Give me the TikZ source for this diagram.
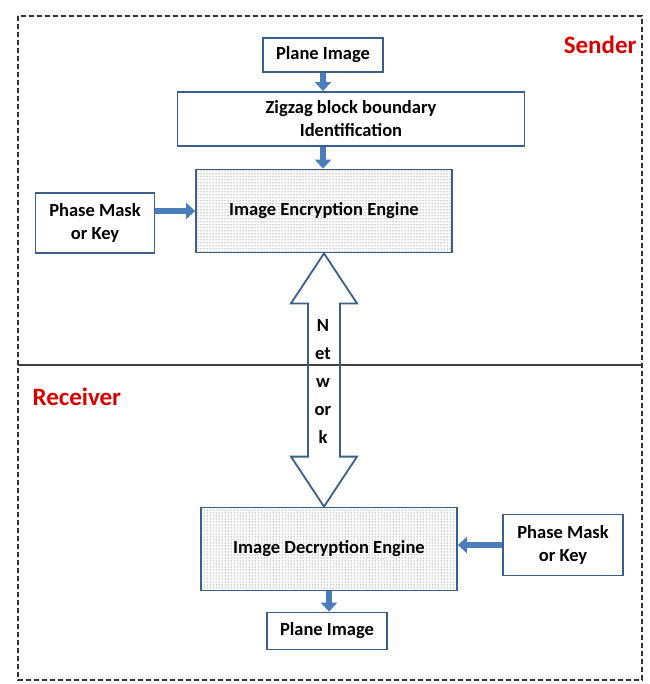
\documentclass[tikz,border=0pt]{standalone}
\usepackage{fontspec}
\setmainfont{Carlito}
\usetikzlibrary{calc,patterns,arrows.meta}
\definecolor{boxline}{HTML}{3A5F8B}
\definecolor{arrowblue}{HTML}{4A7DBA}
\begin{document}
\begin{tikzpicture}[x=1pt,y=-1pt,
	blk/.style={draw=boxline,line width=1.8pt,fill=white,align=center,inner sep=2pt,
		font=\fontsize{18.5}{23}\selectfont\bfseries},
	engine/.style={blk,pattern=dots,pattern color=black!75},
	flow/.style={arrowblue,line width=6pt,-{Triangle[width=16pt,length=9pt]}},
	side/.style={font=\fontsize{25}{29}\selectfont\bfseries,text=red!85!black}]
	\useasboundingbox (0,0) rectangle (649,684);
	\draw[dash pattern=on 5pt off 3pt,line width=1.3pt,black!80] (18,16) rectangle (642,680);
	\draw[line width=1.5pt,black!75] (18,365)--(642,365);
	\node[side,anchor=east] (snd) at (640,45) {Sender};
	\node[side,anchor=west] (rcv) at (29,397) {Receiver};
	% sender side
	\node[blk,minimum width=120,minimum height=34] (pin) at (323,55) {Plane Image};
	\node[blk,minimum width=347,minimum height=54] (zig) at (351,119) {Zigzag block boundary\\Identification};
	\node[engine,minimum width=256,minimum height=83] (enc) at (324,211) {Image Encryption Engine};
	\node[blk,minimum width=119,minimum height=60] (keyA) at (95,223) {Phase Mask\\or Key};
	% receiver side
	\node[engine,minimum width=256,minimum height=83] (dec) at (329,549) {Image Decryption Engine};
	\node[blk,minimum width=120,minimum height=61] (keyB) at (563,545) {Phase Mask\\or Key};
	\node[blk,minimum width=120,minimum height=37] (pout) at (327,631) {Plane Image};
	\draw[flow] (pin.south)--(pin.south |- zig.north);
	\draw[flow] (pin.south |- zig.south)--(pin.south |- enc.north);
	\draw[flow] (keyA.east |- enc.west)--(enc.west);
	\draw[flow] (keyB.west)--(keyB.west -| dec.east);
	\draw[flow] (dec.south)--(dec.south |- pout.north);
	% network
	\draw[boxline,line width=1.8pt,line join=miter] (enc.south)--++(33,50)--++(-17,0)
		--($(enc.south |- dec.north)+(16,-50)$)--++(17,0)--(enc.south |- dec.north)
		--++(-33,-50)--++(17,0)--($(enc.south)+(-16,50)$)--++(-17,0)--cycle;
	\node[align=center,font=\fontsize{18.5}{28}\selectfont\bfseries] (net) at (323,381) {N\\et\\w\\or\\k};
\end{tikzpicture}
\end{document}
